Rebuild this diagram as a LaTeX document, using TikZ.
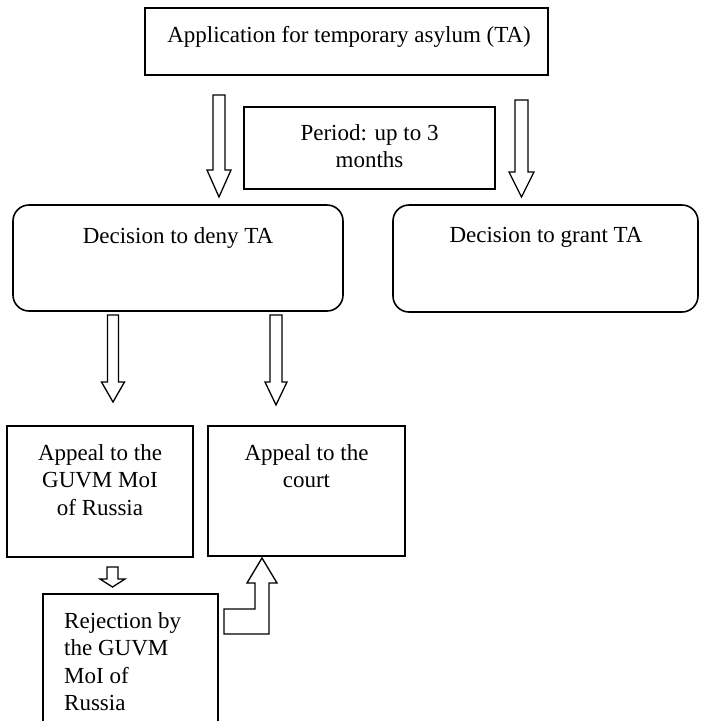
\documentclass[tikz,border=0pt]{standalone}
\usepackage{fontspec}
\setmainfont{Liberation Serif}
\newcommand{\mlines}[2][c]{\begin{tabular}[t]{@{}#1@{}}#2\end{tabular}}
\newcommand{\blockdown}[6]{%
  \draw[barrow] ({#1-#5},#2) -- ({#1+#5},#2) -- ({#1+#5},#3) -- ({#1+#6},#3)
    -- (#1,#4) -- ({#1-#6},#3) -- ({#1-#5},#3) -- cycle;}
\begin{document}
\begin{tikzpicture}[x=1pt,y=-1pt,
  box/.style={draw, line width=1.6pt, inner sep=0pt},
  rbox/.style={box, rounded corners=16pt},
  txt/.style={inner sep=0pt, anchor=base, font=\fontsize{23}{27.6}\selectfont},
  barrow/.style={draw, line width=1.3pt, fill=white, line join=miter}]
\useasboundingbox (0,0) rectangle (703,721);
\clip (0,0) rectangle (703,721);

% boxes
\node[box, minimum width=403pt, minimum height=67pt] (app) at (346.5,41.5) {};
\node[box, minimum width=251pt, minimum height=82pt] (period) at (369.5,148) {};
\node[rbox, minimum width=330pt, minimum height=106pt] (deny) at (178,258) {};
\node[rbox, minimum width=305pt, minimum height=107pt] (grant) at (545.5,258.5) {};
\node[box, minimum width=186pt, minimum height=131pt] (appgu) at (100,491.5) {};
\node[box, minimum width=197pt, minimum height=130pt] (court) at (306.5,491) {};
\node[box, minimum width=175pt, minimum height=170pt] (rej) at (130.5,679) {};

% texts
\node[txt] (tapp) at (349,42) {Application for temporary asylum (TA)};
\node[txt] (tperiod) at (369.5,140) {\mlines{Period: up to 3\\months}};
\node[txt] (tdeny) at (178,243) {Decision to deny TA};
\node[txt] (tgrant) at (546,242) {Decision to grant TA};
\node[txt] (tappgu) at (100,460) {\mlines{Appeal to the\\GUVM MoI\\of Russia}};
\node[txt] (tcourt) at (306.5,460) {\mlines{Appeal to the\\court}};
\node[txt, anchor=base west] (trej) at (64,628) {\mlines[l]{Rejection by\\the GUVM\\MoI of\\Russia}};

% block arrows
\blockdown{219}{95}{170}{197}{6}{12}
\blockdown{521.5}{100}{172}{197}{6.5}{12.5}
\blockdown{113}{315}{382}{402}{5.5}{11.5}
\blockdown{276}{315}{382}{405}{6}{11}
\blockdown{112.5}{567}{579}{587}{5.5}{12.5}
% bent-up arrow from rejection to court
\draw[barrow] (224,609) -- (255,609) -- (255,583) -- (247,583) -- (262,558)
  -- (277,583) -- (269,583) -- (269,634) -- (224,634) -- cycle;
\end{tikzpicture}
\end{document}
